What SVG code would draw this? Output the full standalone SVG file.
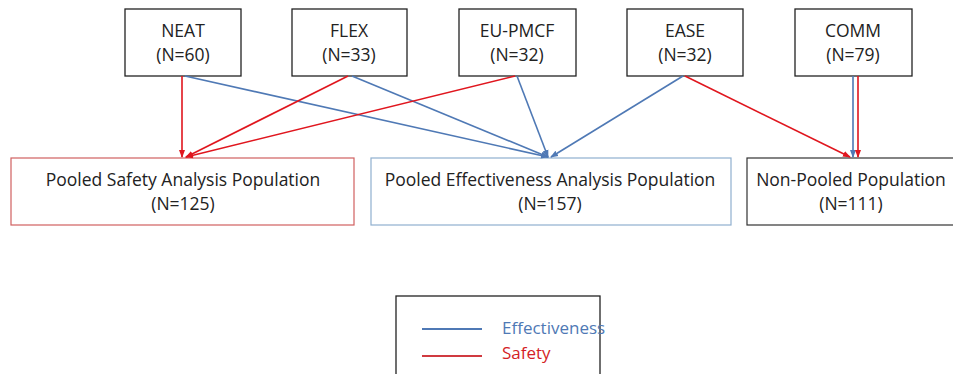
<svg xmlns="http://www.w3.org/2000/svg" width="953" height="374" viewBox="0 0 953 374">
<style>
  .box{fill:#fff;stroke:#222;stroke-width:1.3}
  .t{font-family:"Open Sans","Liberation Sans",sans-serif;font-size:17.5px;fill:#222;text-anchor:middle}
  .b{stroke:#4f79b5;stroke-width:1.6;fill:none}
  .r{stroke:#e0161e;stroke-width:1.6;fill:none}
  .lg{font-family:"Open Sans","Liberation Sans",sans-serif;font-size:17px}
</style>
<defs>
  <marker id="ab" markerWidth="8" markerHeight="8" refX="7" refY="4" orient="auto" markerUnits="userSpaceOnUse"><path d="M0,1 L8,4 L0,7 z" fill="#4f79b5"/></marker>
  <marker id="ar" markerWidth="8" markerHeight="8" refX="7" refY="4" orient="auto" markerUnits="userSpaceOnUse"><path d="M0,1 L8,4 L0,7 z" fill="#e0161e"/></marker>
</defs>
<rect width="953" height="374" fill="#fff"/>
<g id="neat"><rect class="box" x="125" y="9" width="116" height="67"/><text class="t" x="183" y="37">NEAT</text><text class="t" x="183" y="61">(N=60)</text></g>
<g id="flex"><rect class="box" x="292" y="9" width="115" height="67"/><text class="t" x="349" y="37">FLEX</text><text class="t" x="349" y="61">(N=33)</text></g>
<g id="eupmcf"><rect class="box" x="459" y="9" width="117" height="67"/><text class="t" x="517" y="37">EU-PMCF</text><text class="t" x="517" y="61">(N=32)</text></g>
<g id="ease"><rect class="box" x="627" y="9" width="116" height="67"/><text class="t" x="685" y="37">EASE</text><text class="t" x="685" y="61">(N=32)</text></g>
<g id="comm"><rect class="box" x="795" y="9" width="117" height="67"/><text class="t" x="853" y="37">COMM</text><text class="t" x="853" y="61">(N=79)</text></g>
<g id="safety"><rect x="11" y="158" width="343" height="67" fill="#fff" stroke="#d06060" stroke-width="1.2"/><text class="t" x="183" y="186">Pooled Safety Analysis Population</text><text class="t" x="183" y="210">(N=125)</text></g>
<g id="effectiveness"><rect x="371" y="158" width="360" height="67" fill="#fff" stroke="#8fb0cf" stroke-width="1.2"/><text class="t" x="550" y="186">Pooled Effectiveness Analysis Population</text><text class="t" x="550" y="210">(N=157)</text></g>
<g id="nonpooled"><rect x="747" y="158" width="210" height="67" fill="#fff" stroke="#333" stroke-width="1.2"/><text class="t" x="851" y="186">Non-Pooled Population</text><text class="t" x="851" y="210">(N=111)</text></g>
<g id="connectors">
  <line class="b" x1="185" y1="76" x2="548" y2="157" marker-end="url(#ab)"/>
  <line class="b" x1="352" y1="76" x2="548" y2="157" marker-end="url(#ab)"/>
  <line class="b" x1="517" y1="76" x2="548" y2="157" marker-end="url(#ab)"/>
  <line class="b" x1="683" y1="76" x2="551" y2="157" marker-end="url(#ab)"/>
  <line class="b" x1="853" y1="76" x2="853" y2="157" marker-end="url(#ab)"/>
  <line class="r" x1="182" y1="76" x2="182" y2="157" marker-end="url(#ar)"/>
  <line class="r" x1="348" y1="76" x2="186" y2="157" marker-end="url(#ar)"/>
  <line class="r" x1="515" y1="76" x2="186" y2="157" marker-end="url(#ar)"/>
  <line class="r" x1="685" y1="76" x2="850" y2="157" marker-end="url(#ar)"/>
  <line class="r" x1="858" y1="76" x2="858" y2="157" marker-end="url(#ar)"/>
</g>
<g id="legend">
  <rect x="396" y="296" width="204" height="90" fill="#fff" stroke="#222" stroke-width="1.3"/>
  <line x1="422" y1="329" x2="482" y2="329" stroke="#4f79b5" stroke-width="1.8"/>
  <line x1="422" y1="356" x2="482" y2="356" stroke="#d03a40" stroke-width="1.8"/>
  <text class="lg" x="502" y="334" fill="#4f79b5">Effectiveness</text>
  <text class="lg" x="502" y="359" fill="#d41e26">Safety</text>
</g>
</svg>
